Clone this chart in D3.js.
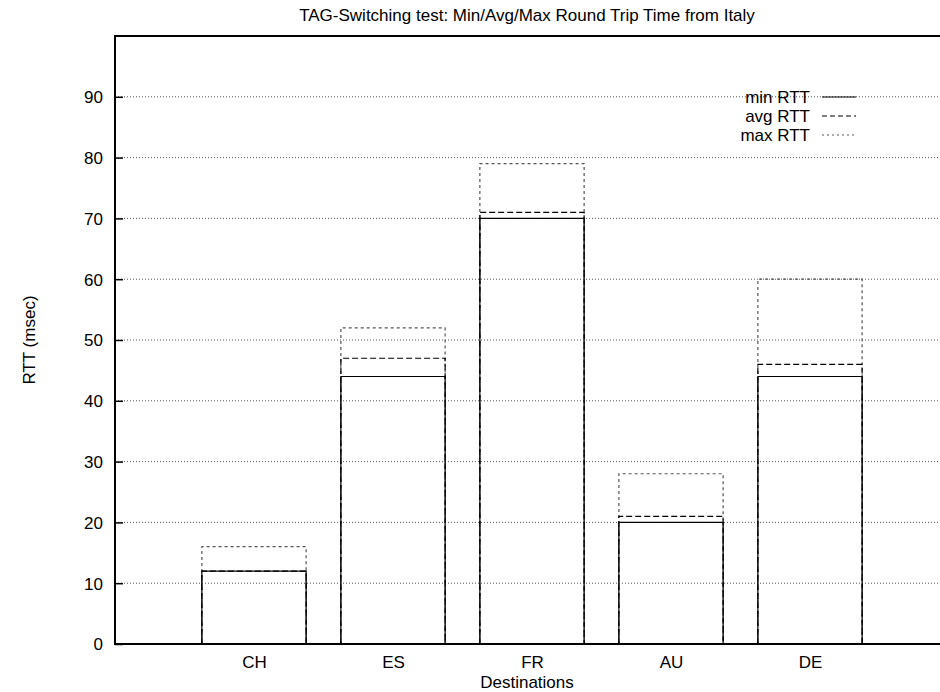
<!DOCTYPE html>
<html>
<head>
<meta charset="utf-8">
<script src="https://cdn.jsdelivr.net/npm/d3@7"></script>
<style>
  html, body { margin: 0; padding: 0; background: #fff; }
  svg text { font-family: "Liberation Sans", Arial, Helvetica, sans-serif; fill: #000; }
</style>
</head>
<body>
<svg id="chart" width="940" height="692"></svg>
<script>
// Round trip times (msec) per destination
const categories = ["CH", "ES", "FR", "AU", "DE"];
const minRTT = [12, 44, 70, 20, 44];
const avgRTT = [12, 47, 71, 21, 46];
const maxRTT = [16, 52, 79, 28, 60];
const yTicks = [0, 10, 20, 30, 40, 50, 60, 70, 80, 90];
const seriesNames = ["min RTT", "avg RTT", "max RTT"];

const svg = d3.select("#chart");
const plotLeft = 115, plotRight = 949, plotTop = 36, plotBottom = 644;
const fontSize = "17px";

const x = d3.scaleLinear().domain([0, categories.length + 1]).range([plotLeft, plotRight]);
const y = d3.scaleLinear().domain([0, 100]).range([plotBottom, plotTop]);
const barW = (x(1) - x(0)) * 0.75;

// dotted grid lines
svg.append("g").selectAll("line").data(yTicks.filter(d => d > 0)).join("line")
  .attr("x1", plotLeft).attr("x2", plotRight)
  .attr("y1", d => y(d)).attr("y2", d => y(d))
  .attr("stroke", "#555").attr("stroke-width", 1).attr("stroke-dasharray", "1,2");

// series styles: max drawn first, min on top
const series = [
  { name: seriesNames[2], values: maxRTT, dash: "3,3", color: "#555" },
  { name: seriesNames[1], values: avgRTT, dash: "6,3", color: "#000" },
  { name: seriesNames[0], values: minRTT, dash: null, color: "#000" }
];

series.forEach(s => {
  svg.append("g").selectAll("path").data(s.values).join("path")
    .attr("d", (v, i) => {
      const x0 = x(i + 1) - barW / 2, x1 = x(i + 1) + barW / 2;
      return `M${x0},${y(0)}V${y(v)}H${x1}V${y(0)}`;
    })
    .attr("fill", "none")
    .attr("stroke", s.color)
    .attr("stroke-width", 1.2)
    .attr("stroke-dasharray", s.dash);
});

// frame: left axis, top and bottom borders
svg.append("path")
  .attr("d", `M${plotRight},${plotTop}H${plotLeft}V${plotBottom}H${plotRight}`)
  .attr("fill", "none").attr("stroke", "#000").attr("stroke-width", 2);

// y axis ticks and labels
const yAxis = d3.axisRight(y).tickValues(yTicks).tickSize(8).tickFormat(d3.format("d"));
const gy = svg.append("g").attr("transform", `translate(${plotLeft},0)`).call(yAxis);
gy.select(".domain").remove();
gy.selectAll(".tick line").attr("stroke", "#000").attr("stroke-width", 1.5);
gy.selectAll(".tick text")
  .attr("x", -12).attr("dy", "0.35em")
  .attr("text-anchor", "end")
  .style("font-size", fontSize);

// x axis category labels
const xAxis = d3.axisBottom(x).tickValues(categories.map((c, i) => i + 1))
  .tickSize(0).tickFormat(d => categories[d - 1]);
const gx = svg.append("g").attr("transform", `translate(0,${plotBottom})`).call(xAxis);
gx.select(".domain").remove();
gx.selectAll(".tick text").attr("y", 24).attr("dy", "0").style("font-size", fontSize);

// titles
svg.append("text").attr("x", 527).attr("y", 21).attr("text-anchor", "middle")
  .style("font-size", fontSize)
  .text("TAG-Switching test: Min/Avg/Max Round Trip Time from Italy");
svg.append("text").attr("x", 527).attr("y", 688).attr("text-anchor", "middle")
  .style("font-size", fontSize).text("Destinations");
svg.append("text").attr("transform", "translate(35,340) rotate(-90)")
  .attr("text-anchor", "middle").style("font-size", fontSize).text("RTT (msec)");

// legend
const legend = [
  { name: seriesNames[0], dash: null, color: "#000" },
  { name: seriesNames[1], dash: "5,3", color: "#000" },
  { name: seriesNames[2], dash: "2,3", color: "#555" }
];
const lg = svg.append("g").selectAll("g").data(legend).join("g")
  .attr("transform", (d, i) => `translate(0,${97 + i * 19})`);
lg.append("text").attr("x", 810).attr("dy", "0.35em").attr("text-anchor", "end")
  .style("font-size", fontSize).text(d => d.name);
lg.append("line").attr("x1", 822).attr("x2", 856).attr("y1", 0).attr("y2", 0)
  .attr("stroke", d => d.color).attr("stroke-width", 1.2)
  .attr("stroke-dasharray", d => d.dash);
</script>
</body>
</html>
